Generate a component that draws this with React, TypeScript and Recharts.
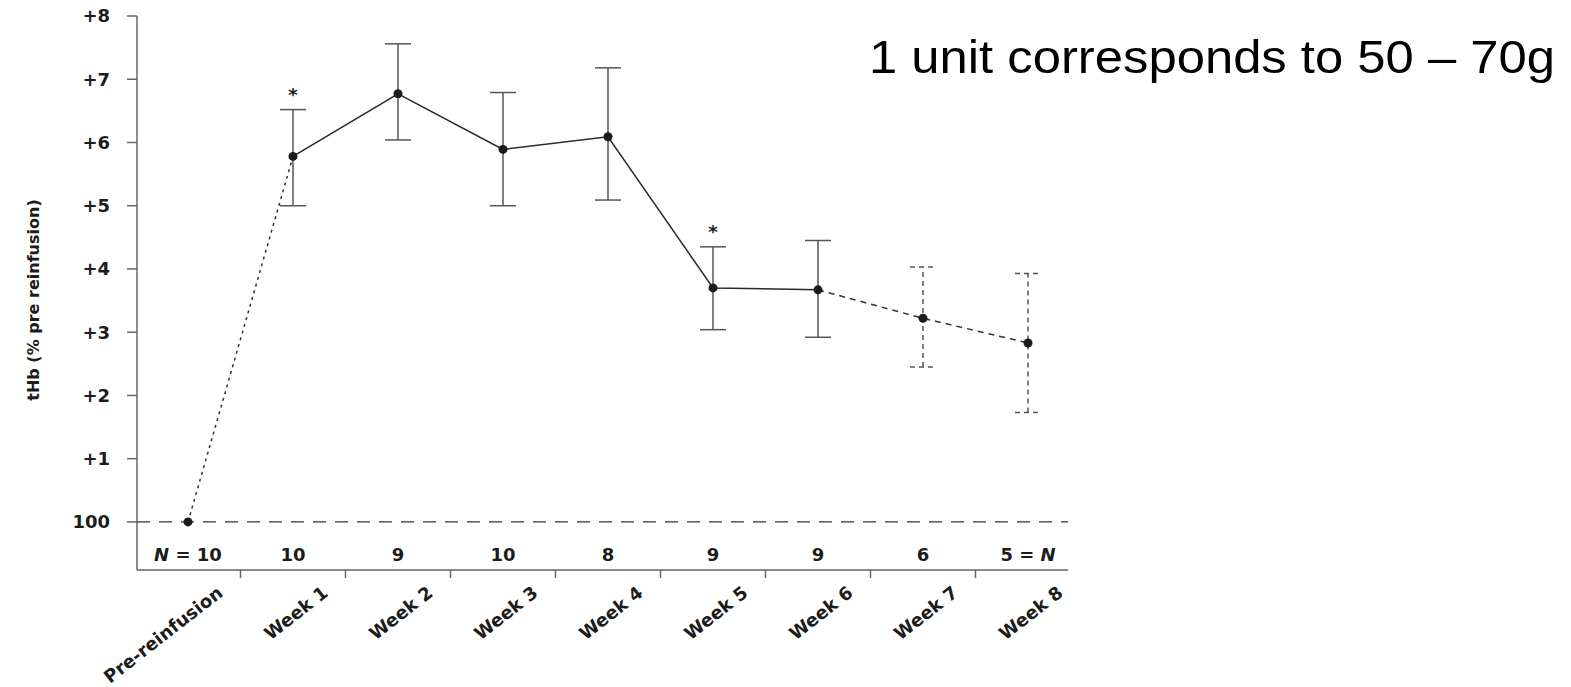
import React from 'react';
import {
  ComposedChart,
  Line,
  Scatter,
  ErrorBar,
  XAxis,
  YAxis,
  ReferenceLine,
  Customized,
} from 'recharts';

// Time points of the study
const CATEGORIES = [
  'Pre-reinfusion',
  'Week 1',
  'Week 2',
  'Week 3',
  'Week 4',
  'Week 5',
  'Week 6',
  'Week 7',
  'Week 8',
];

// Mean change in total haemoglobin mass (% of pre-reinfusion value)
const MEAN_CHANGE = [0, 5.78, 6.77, 5.89, 6.09, 3.7, 3.67, 3.22, 2.83];
const UPPER = [null, 6.52, 7.56, 6.79, 7.18, 4.35, 4.45, 4.03, 3.93];
const LOWER = [null, 5.0, 6.04, 5.0, 5.09, 3.04, 2.92, 2.45, 1.73];

// Number of subjects measured at each time point
const N_SUBJECTS = [10, 10, 9, 10, 8, 9, 9, 6, 5];

// Significant difference markers
const SIGNIFICANT = [false, true, false, false, false, true, false, false, false];

// Style of the line segment leading into each point, and of each error bar
const SEGMENT_STYLE = [null, 'dotted', 'solid', 'solid', 'solid', 'solid', 'solid', 'dashed', 'dashed'];
const ERROR_STYLE = [null, 'solid', 'solid', 'solid', 'solid', 'solid', 'solid', 'dashed', 'dashed'];

const Y_TICKS = [0, 1, 2, 3, 4, 5, 6, 7, 8];

const FONT = '"DejaVu Sans", sans-serif';
const INK = '#1c1c1c';
const AXIS = '#666';

type Row = {
  idx: number;
  name: string;
  mean: number;
  dotted: number | null;
  solid: number | null;
  dashed: number | null;
};

const rows: Row[] = CATEGORIES.map((name, i) => ({
  idx: i,
  name,
  mean: MEAN_CHANGE[i],
  dotted: null,
  solid: null,
  dashed: null,
}));
SEGMENT_STYLE.forEach((style, i) => {
  if (!style || i === 0) return;
  (rows[i - 1] as any)[style] = MEAN_CHANGE[i - 1];
  (rows[i] as any)[style] = MEAN_CHANGE[i];
});

const errorRows = (style: string) =>
  CATEGORIES.map((_, i) => i)
    .filter((i) => ERROR_STYLE[i] === style)
    .map((i) => ({
      idx: i,
      mean: MEAN_CHANGE[i],
      err: [MEAN_CHANGE[i] - (LOWER[i] as number), (UPPER[i] as number) - MEAN_CHANGE[i]],
    }));

const solidErrors = errorRows('solid');
const dashedErrors = errorRows('dashed');

const starRows = CATEGORIES.map((_, i) => i)
  .filter((i) => SIGNIFICANT[i])
  .map((i) => ({ idx: i, upper: UPPER[i] as number }));

const meanRows = CATEGORIES.map((_, i) => ({ idx: i, mean: MEAN_CHANGE[i] }));

// Category centres plus the boundaries between them
const X_TICKS: number[] = [];
CATEGORIES.forEach((_, i) => {
  X_TICKS.push(i);
  if (i < CATEGORIES.length - 1) X_TICKS.push(i + 0.5);
});

const nLabel = (i: number) => {
  if (i === 0)
    return (
      <>
        <tspan fontStyle="italic">N</tspan>
        {` = ${N_SUBJECTS[i]}`}
      </>
    );
  if (i === N_SUBJECTS.length - 1)
    return (
      <>
        {`${N_SUBJECTS[i]} = `}
        <tspan fontStyle="italic">N</tspan>
      </>
    );
  return String(N_SUBJECTS[i]);
};

const CategoryTick = (props: any) => {
  const { x, y, payload } = props;
  const v = payload.value as number;
  if (!Number.isInteger(v)) {
    return <line x1={x} x2={x} y1={y} y2={y + 8} stroke={AXIS} strokeWidth={1.5} />;
  }
  return (
    <g>
      <text
        x={x}
        y={y - 9}
        textAnchor="middle"
        fontFamily={FONT}
        fontWeight="bold"
        fontSize={18}
        fill={INK}
      >
        {nLabel(v)}
      </text>
      <text
        transform={`translate(${x + 36},${y + 25}) rotate(-38)`}
        textAnchor="end"
        fontFamily={FONT}
        fontWeight="bold"
        fontSize={18}
        fill={INK}
      >
        {CATEGORIES[v]}
      </text>
    </g>
  );
};

const Dot = (props: any) => {
  const { cx, cy } = props;
  if (cx == null || cy == null) return <g />;
  return <circle cx={cx} cy={cy} r={4.5} fill={INK} />;
};

const Star = (props: any) => {
  const { cx, cy } = props;
  if (cx == null || cy == null) return <g />;
  return (
    <text x={cx} y={cy - 9} textAnchor="middle" fontFamily={FONT} fontWeight="bold" fontSize={18} fill={INK}>
      *
    </text>
  );
};

const Hidden = () => <g />;

const Annotations = () => (
  <g>
    <text
      transform="translate(39,300) rotate(-90)"
      textAnchor="middle"
      fontFamily={FONT}
      fontWeight="bold"
      fontSize={16}
      fill={INK}
    >
      tHb (% pre reinfusion)
    </text>
    <text
      x={869}
      y={73}
      fontFamily='"Liberation Sans", Arial, sans-serif'
      fontSize={46}
      fill="#000"
      textLength={686}
      lengthAdjust="spacingAndGlyphs"
    >
      1 unit corresponds to 50 – 70g
    </text>
  </g>
);

export default function App() {
  return (
    <div style={{ position: 'absolute', left: 0, top: 0, width: 1571, height: 687, background: '#fff' }}>
      <ComposedChart
        width={1571}
        height={687}
        data={rows}
        margin={{ top: 16, right: 503, bottom: 0, left: 0 }}
      >
        <XAxis
          dataKey="idx"
          type="number"
          domain={[-0.4857, 8.381]}
          allowDataOverflow
          ticks={X_TICKS}
          interval={0}
          height={117}
          tickLine={false}
          tickSize={0}
          tickMargin={0}
          tick={<CategoryTick />}
          axisLine={{ stroke: AXIS, strokeWidth: 1.5 }}
        />
        <YAxis
          type="number"
          domain={[-0.76, 8]}
          allowDataOverflow
          ticks={Y_TICKS}
          interval={0}
          width={137}
          tickSize={10}
          tickMargin={17}
          tickFormatter={(v: number) => (v === 0 ? '100' : `+${v}`)}
          tick={{ fontFamily: FONT, fontWeight: 'bold', fontSize: 18, fill: INK }}
          tickLine={{ stroke: AXIS, strokeWidth: 1.5 }}
          axisLine={{ stroke: AXIS, strokeWidth: 1.5 }}
        />
        <ReferenceLine y={0} stroke="#333" strokeWidth={1.3} strokeDasharray="13 9" />

        <Scatter data={solidErrors} dataKey="mean" shape={<Hidden />} isAnimationActive={false}>
          <ErrorBar dataKey="err" direction="y" width={13} stroke="#555" strokeWidth={1.5} />
        </Scatter>
        <Scatter data={dashedErrors} dataKey="mean" shape={<Hidden />} isAnimationActive={false}>
          <ErrorBar
            dataKey="err"
            direction="y"
            width={13}
            stroke="#555"
            strokeWidth={1.5}
            strokeDasharray="5 4"
          />
        </Scatter>

        <Line
          dataKey="dotted"
          type="linear"
          stroke="#333"
          strokeWidth={1.5}
          strokeDasharray="3 4"
          dot={false}
          activeDot={false}
          connectNulls={false}
          isAnimationActive={false}
        />
        <Line
          dataKey="solid"
          type="linear"
          stroke="#2a2a2a"
          strokeWidth={1.5}
          dot={false}
          activeDot={false}
          connectNulls={false}
          isAnimationActive={false}
        />
        <Line
          dataKey="dashed"
          type="linear"
          stroke="#333"
          strokeWidth={1.5}
          strokeDasharray="6 5"
          dot={false}
          activeDot={false}
          connectNulls={false}
          isAnimationActive={false}
        />

        <Scatter data={meanRows} dataKey="mean" shape={<Dot />} isAnimationActive={false} />
        <Scatter data={starRows} dataKey="upper" shape={<Star />} isAnimationActive={false} />

        <Customized component={Annotations} />
      </ComposedChart>
    </div>
  );
}
